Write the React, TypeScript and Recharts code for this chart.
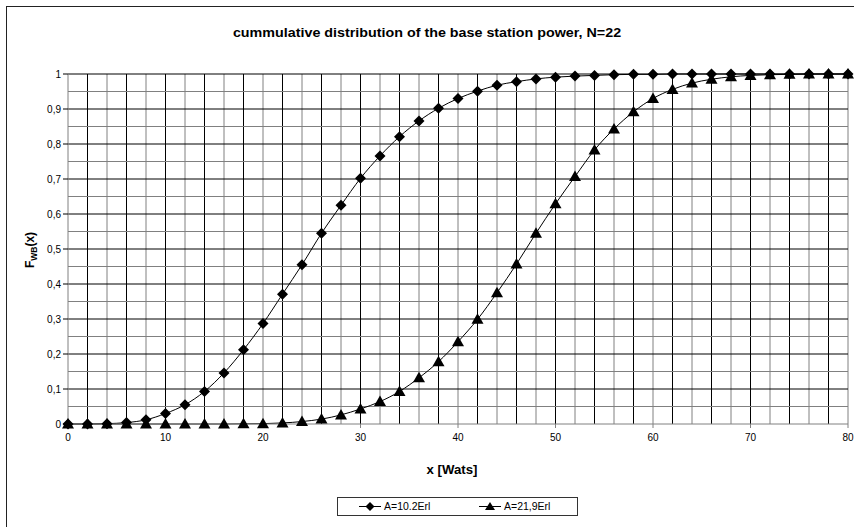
import { LineChart, Line, XAxis, YAxis, ReferenceLine } from 'recharts'

// x values in Watts, step 2
const xValues = [
  0, 2, 4, 6, 8, 10, 12, 14, 16, 18, 20, 22, 24, 26, 28, 30, 32, 34, 36, 38, 40,
  42, 44, 46, 48, 50, 52, 54, 56, 58, 60, 62, 64, 66, 68, 70, 72, 74, 76, 78, 80,
]

// A=10.2Erl
const seriesA = [
  0, 0, 0.001, 0.004, 0.012, 0.03, 0.055, 0.093, 0.146, 0.212, 0.287, 0.371, 0.455,
  0.545, 0.625, 0.702, 0.766, 0.821, 0.866, 0.902, 0.93, 0.951, 0.968, 0.978, 0.986,
  0.991, 0.994, 0.996, 0.998, 0.999, 0.999, 1, 1, 1, 1, 1, 1, 1, 1, 1, 1,
]

// A=21,9Erl
const seriesB = [
  0, 0, 0, 0, 0, 0, 0, 0, 0, 0.0005, 0.001, 0.003, 0.007, 0.014, 0.026, 0.043,
  0.064, 0.093, 0.132, 0.178, 0.235, 0.299, 0.375, 0.457, 0.545, 0.629, 0.707,
  0.783, 0.843, 0.892, 0.93, 0.956, 0.974, 0.985, 0.992, 0.996, 0.998, 0.999, 1, 1, 1,
]

const xTicks = [0, 10, 20, 30, 40, 50, 60, 70, 80]
const yTicks = [0, 0.1, 0.2, 0.3, 0.4, 0.5, 0.6, 0.7, 0.8, 0.9, 1]
const xGrid = xValues.slice(1)
const yGrid = [0.05, 0.1, 0.15, 0.2, 0.25, 0.3, 0.35, 0.4, 0.45, 0.5, 0.55, 0.6, 0.65, 0.7, 0.75, 0.8, 0.85, 0.9, 0.95, 1]

const data = xValues.map((x, i) => ({ x, a: seriesA[i], b: seriesB[i] }))

const font = 'Arial, "Liberation Sans", sans-serif'

const Diamond = (props: any) => {
  const { cx, cy } = props
  if (cx == null || cy == null) return null
  return <path d={`M${cx},${cy - 5.5} L${cx + 5.5},${cy} L${cx},${cy + 5.5} L${cx - 5.5},${cy} Z`} fill="#000" />
}

const Triangle = (props: any) => {
  const { cx, cy } = props
  if (cx == null || cy == null) return null
  return <path d={`M${cx},${cy - 6} L${cx + 6},${cy + 4.5} L${cx - 6},${cy + 4.5} Z`} fill="#000" />
}

const fmt = (v: number) => String(Math.round(v * 10) / 10).replace('.', ',')

const LegendBox = () => (
  <svg width={241} height={19} style={{ position: 'absolute', left: 337, top: 497 }}>
    <rect x={0.5} y={0.5} width={240} height={18} fill="#fff" stroke="#333" />
    <line x1={22} x2={44} y1={9.5} y2={9.5} stroke="#000" />
    <path d="M33,5 L37.5,9.5 L33,14 L28.5,9.5 Z" fill="#000" />
    <text x={47} y={13} fontSize={10.5} fontFamily={font}>A=10.2Erl</text>
    <line x1={142} x2={164} y1={9.5} y2={9.5} stroke="#000" />
    <path d="M153,5 L158,13 L148,13 Z" fill="#000" />
    <text x={167} y={13} fontSize={10.5} fontFamily={font}>A=21,9Erl</text>
  </svg>
)

export default function App() {
  return (
    <div style={{ position: 'absolute', left: 0, top: 0, width: 854, height: 527, background: '#fff', overflow: 'hidden' }}>
      <div
        style={{
          position: 'absolute',
          left: 6,
          top: 6,
          width: 900,
          height: 600,
          borderLeft: '1.5px solid #222',
          borderTop: '1.5px solid #222',
        }}
      />
      <div
        style={{
          position: 'absolute',
          left: 0,
          width: 854,
          top: 25,
          textAlign: 'center',
          fontFamily: font,
          fontWeight: 'bold',
          fontSize: 13,
          transform: 'translateX(0px) scaleX(1.1)',
        }}
      >
        cummulative distribution of the base station power, N=22
      </div>
      <div style={{ position: 'absolute', left: 0, top: 0 }}>
        <LineChart width={854} height={527} data={data} margin={{ top: 74, right: 6, left: 8, bottom: 73 }}>
          {xGrid.map((v, i) => (
            <ReferenceLine key={`vx${v}`} x={v} stroke={i % 2 === 0 ? '#000' : '#808080'} strokeWidth={1} />
          ))}
          {yGrid.map((v, i) => (
            <ReferenceLine key={`hy${v}`} y={v} stroke={i % 2 === 0 ? '#808080' : '#000'} strokeWidth={1} />
          ))}
          <XAxis
            dataKey="x"
            type="number"
            domain={[0, 80]}
            ticks={xTicks}
            height={30}
            axisLine={{ stroke: '#808080' }}
            tickLine={{ stroke: '#808080' }}
            tickSize={4}
            tick={{ fill: '#000', fontSize: 10, fontFamily: font }}
            tickMargin={6}
          />
          <YAxis
            type="number"
            domain={[0, 1]}
            ticks={yTicks}
            width={60}
            axisLine={{ stroke: '#808080' }}
            tickLine={{ stroke: '#000' }}
            tickSize={5}
            tickMargin={2}
            tickFormatter={fmt}
            tick={{ fill: '#000', fontSize: 10, fontFamily: font }}
            label={{
              content: () => (
                <text
                  transform="translate(34,250) rotate(-90)"
                  textAnchor="middle"
                  fontFamily={font}
                  fontWeight="bold"
                  fontSize={12}
                  fill="#000"
                >
                  F<tspan fontSize={8.5} dy={3}>WB</tspan>
                  <tspan dy={-3}>(x)</tspan>
                </text>
              ),
            }}
          />
          <Line
            type="monotone"
            dataKey="a"
            stroke="#000"
            strokeWidth={1}
            dot={<Diamond />}
            activeDot={false}
            isAnimationActive={false}
          />
          <Line
            type="monotone"
            dataKey="b"
            stroke="#000"
            strokeWidth={1}
            dot={<Triangle />}
            activeDot={false}
            isAnimationActive={false}
          />
        </LineChart>
      </div>
      <div
        style={{
          position: 'absolute',
          left: 352,
          width: 200,
          top: 463,
          textAlign: 'center',
          fontFamily: font,
          fontWeight: 'bold',
          fontSize: 12,
          transform: 'scaleX(1.1)',
        }}
      >
        x [Wats]
      </div>
      <LegendBox />
    </div>
  )
}
